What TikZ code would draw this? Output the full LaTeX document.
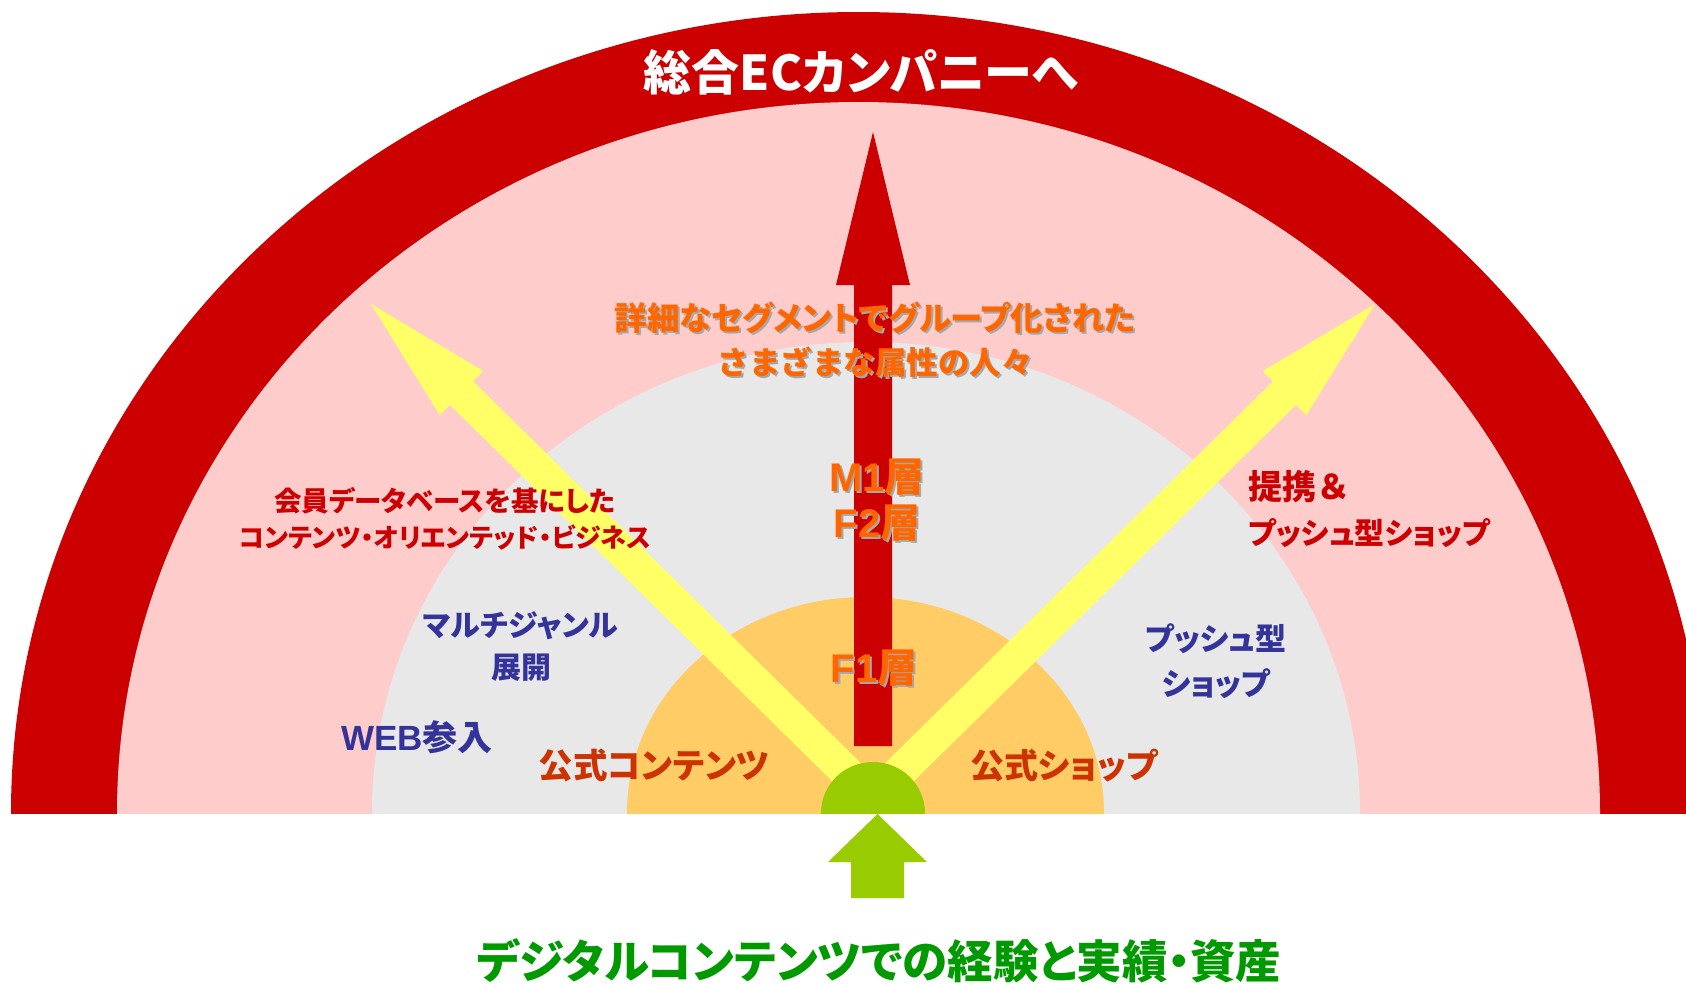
\documentclass[tikz,border=0pt]{standalone}
\usepackage{fontspec}
\setmainfont{Noto Sans CJK JP}[RawFeature={+palt}]
\newfontfamily\jpfull{Noto Sans CJK JP}
\newfontfamily\latin{Liberation Sans}
\usetikzlibrary{calc}
\definecolor{darkred}{HTML}{CC0000}
\definecolor{pinkbg}{HTML}{FFCCCC}
\definecolor{greybg}{HTML}{E8E8E8}
\definecolor{orangebg}{HTML}{FFCC66}
\definecolor{yellowar}{HTML}{FFFF66}
\definecolor{greenar}{HTML}{99CC00}
\definecolor{txtorange}{HTML}{FF6600}
\definecolor{txtshadow}{HTML}{A8A8A8}
\definecolor{txtnavy}{HTML}{333399}
\definecolor{txtred}{HTML}{CC0000}
\definecolor{txtrust}{HTML}{CC3300}
\definecolor{txtgreen}{HTML}{009900}
\tikzset{
  lbl/.style={inner sep=0pt, align=center, font=\bfseries},
  fs/.style 2 args={font=\bfseries\fontsize{#1}{#2}\selectfont},
}
\newcommand\segtext{{\fontsize{32.5}{44}\selectfont 詳細なセグメントでグループ化された}\\{\jpfull\bfseries\fontsize{31.5}{44}\selectfont さまざまな属性の人々}}
\newcommand\layertext{{\latin\bfseries M1}層\\{\latin\bfseries F2}層}
\begin{document}
\begin{tikzpicture}[x=1pt,y=-1pt]
\useasboundingbox (0,0) rectangle (1686,983);
% background half ellipses
\begin{scope}
  \clip (0,0) rectangle (1686,813);
  \fill[darkred] (858.5,813) ellipse[x radius=847.5, y radius=801];
  \fill[pinkbg] (858.5,813) ellipse[x radius=741.5, y radius=711];
  \fill[greybg] (866,813) ellipse[x radius=494, y radius=471];
  \fill[orangebg] (865.5,813) ellipse[x radius=238.5, y radius=216];
\end{scope}
% red vertical arrow
\fill[darkred] (854,746) -- (854,285) -- (836,285) -- (873,132) -- (910,285) -- (892,285) -- (892,746) -- cycle;
% yellow arrows
\coordinate (LT) at (888,813); \coordinate (LP) at (371,304);
\coordinate (LB) at ($(LP)!127pt!(LT)$);
\coordinate (RT) at (858,813); \coordinate (RP) at (1375,304);
\coordinate (RB) at ($(RP)!127pt!(RT)$);
\begin{scope}
  \clip (0,0) rectangle (1686,813);
  \fill[yellowar] ($(LT)!16.5pt!90:(LP)$) -- ($(LB)!16.5pt!90:(LP)$) -- ($(LB)!31pt!90:(LP)$) -- (LP)
     -- ($(LB)!31pt!-90:(LP)$) -- ($(LB)!16.5pt!-90:(LP)$) -- ($(LT)!16.5pt!-90:(LP)$) -- cycle;
  \fill[yellowar] ($(RT)!16.5pt!90:(RP)$) -- ($(RB)!16.5pt!90:(RP)$) -- ($(RB)!31pt!90:(RP)$) -- (RP)
     -- ($(RB)!31pt!-90:(RP)$) -- ($(RB)!16.5pt!-90:(RP)$) -- ($(RT)!16.5pt!-90:(RP)$) -- cycle;
  % green semicircle
  \fill[greenar] (873,813) ellipse[x radius=52, y radius=51];
\end{scope}
% green up arrow
\fill[greenar] (851,898) -- (851,862) -- (828,862) -- (877.5,814) -- (927,862) -- (904,862) -- (904,898) -- cycle;
% texts
\node[lbl, fs={48}{58}, text=white] (title) at (861,72) {総合ECカンパニーへ};
\node[lbl, fs={32}{44}, text=txtshadow] (segsh) at (877,342) {\segtext};
\node[lbl, fs={32}{44}, text=txtorange] (seg) at (875,340) {\segtext};
\node[lbl, fs={26}{36}, text=txtred] (member) at (445,519) {{\fontsize{27.5}{36}\selectfont 会員データベースを基にした}\\コンテンツ・オリエンテッド・ビジネス};
\node[lbl, fs={30}{45}, text=txtred, anchor=west, align=left] (teikei) at (1248,509) {{\jpfull\bfseries\fontsize{34}{45}\selectfont 提携＆}\\プッシュ型ショップ};
\node[lbl, fs={30}{42}, text=txtnavy] (multi) at (521,647) {マルチジャンル\\展開};
\node[lbl, fs={35}{40}, text=txtnavy] (web) at (417,737) {{\latin\bfseries WEB}参入};
\node[lbl, fs={34.5}{40}, text=txtrust] (offc) at (654,765) {公式コンテンツ};
\node[lbl, fs={34}{40}, text=txtrust] (offs) at (1064,766) {公式ショップ};
\node[lbl, fs={31}{45}, text=txtnavy] (push) at (1216,661) {プッシュ型\\ショップ};
\node[lbl, fs={40}{46}, text=txtshadow] (m1sh) at (879,502) {\layertext};
\node[lbl, fs={40}{46}, text=txtorange] (m1) at (877,500) {\layertext};
\node[lbl, fs={40}{46}, text=txtshadow] (f1sh) at (876,670) {{\latin\bfseries F1}層};
\node[lbl, fs={40}{46}, text=txtorange] (f1) at (874,668) {{\latin\bfseries F1}層};
\node[lbl, fs={45.5}{50}, text=txtgreen] (bottom) at (879,961) {デジタルコンテンツでの経験と実績・資産};
\end{tikzpicture}
\end{document}
